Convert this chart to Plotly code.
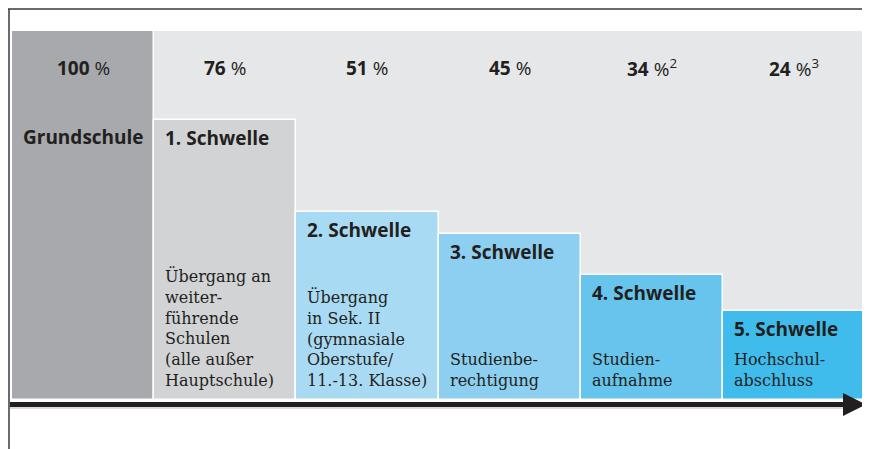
import plotly.graph_objects as go

# ---- data ----
categories = ["Grundschule", "1. Schwelle", "2. Schwelle", "3. Schwelle", "4. Schwelle", "5. Schwelle"]
shares = [100, 76, 51, 45, 34, 24]
footnotes = ["", "", "", "", "2", "3"]
descriptions = [
    "",
    "Übergang an<br>weiter-<br>führende<br>Schulen<br>(alle außer<br>Hauptschule)",
    "Übergang<br>in Sek. II<br>(gymnasiale<br>Oberstufe/<br>11.-13. Klasse)",
    "Studienbe-<br>rechtigung",
    "Studien-<br>aufnahme",
    "Hochschul-<br>abschluss",
]
colors = ["#a7a9ac", "#d1d3d4", "#a9daf3", "#8ccff0", "#66c4ed", "#3fbceb"]

TXT = "#231f20"
SANS = "Open Sans"
SERIF = "DejaVu Serif"

# page body has an 8px margin: figure occupies window pixels 8..870 / 8..449
OFF = 8
W, H = 870 - OFF, 449 - OFF
ML, MR, MT, MB = 12 - OFF, 5, 31 - OFF, 49
PW, PH = W - ML - MR, H - MT - MB


def px(xw):
    """window x pixel -> paper x"""
    return (xw - OFF - ML) / PW


def py(yw):
    """window y pixel -> paper y"""
    return (H + OFF - MB - yw) / PH


xs = list(range(len(categories)))

fig = go.Figure(
    go.Bar(
        x=xs,
        y=shares,
        width=1,
        marker=dict(color=colors, line=dict(color="white", width=1.5)),
        hoverinfo="skip",
    )
)

annotations = []
for i, (cat, v, fn, desc) in enumerate(zip(categories, shares, footnotes, descriptions)):
    lab = f"<b>{v}</b> %" + (f"<sup>{fn}</sup>" if fn else "")
    annotations.append(dict(
        x=i, y=shares[0], xref="x", yref="y", text=lab, showarrow=False,
        xanchor="center", yanchor="middle", yshift=-37,
        font=dict(family=SANS, size=19, color=TXT),
    ))
    if i == 0:
        annotations.append(dict(
            x=i, y=v, xref="x", yref="y", text=f"<b>{cat}</b>", showarrow=False,
            xanchor="center", yanchor="middle", yshift=-106,
            font=dict(family=SANS, size=19, color=TXT),
        ))
    else:
        annotations.append(dict(
            x=i - 0.5, y=v, xref="x", yref="y", text=f"<b>{cat}</b>", showarrow=False,
            xanchor="left", yanchor="middle", xshift=9, yshift=-18,
            font=dict(family=SANS, size=19, color=TXT),
        ))
        annotations.append(dict(
            x=i - 0.5, y=0, xref="x", yref="y", text=desc, showarrow=False,
            xanchor="left", yanchor="bottom", xshift=9, yshift=8, align="left",
            font=dict(family=SERIF, size=16, color=TXT),
        ))

shapes = [
    # outer frame (top and left)
    dict(type="line", xref="paper", yref="paper", x0=px(8), x1=px(870), y0=py(9), y1=py(9),
         line=dict(color="#3a3a3a", width=1.5)),
    dict(type="line", xref="paper", yref="paper", x0=px(9), x1=px(9), y0=py(9), y1=py(449),
         line=dict(color="#3a3a3a", width=1.5)),
    # arrow shadow
    dict(type="line", xref="paper", yref="paper", x0=px(10), x1=px(850), y0=py(408), y1=py(408),
         line=dict(color="#cfcfcf", width=1.5)),
    # arrow shaft
    dict(type="line", xref="paper", yref="paper", x0=px(10), x1=px(848), y0=py(404.5), y1=py(404.5),
         line=dict(color=TXT, width=5)),
    # arrow head
    dict(type="path", xref="paper", yref="paper",
         path=f"M {px(843)},{py(393)} L {px(866)},{py(404.5)} L {px(843)},{py(416)} Z",
         fillcolor=TXT, line=dict(color=TXT, width=0)),
]

fig.update_layout(
    width=W, height=H,
    margin=dict(l=ML, r=MR, t=MT, b=MB),
    paper_bgcolor="white",
    plot_bgcolor="#e6e7e8",
    bargap=0,
    showlegend=False,
    xaxis=dict(range=[-0.5, 5.5], visible=False, fixedrange=True),
    yaxis=dict(range=[0, 100], visible=False, fixedrange=True),
    annotations=annotations,
    shapes=shapes,
)

fig.write_html("out.html", config=dict(displayModeBar=False))
